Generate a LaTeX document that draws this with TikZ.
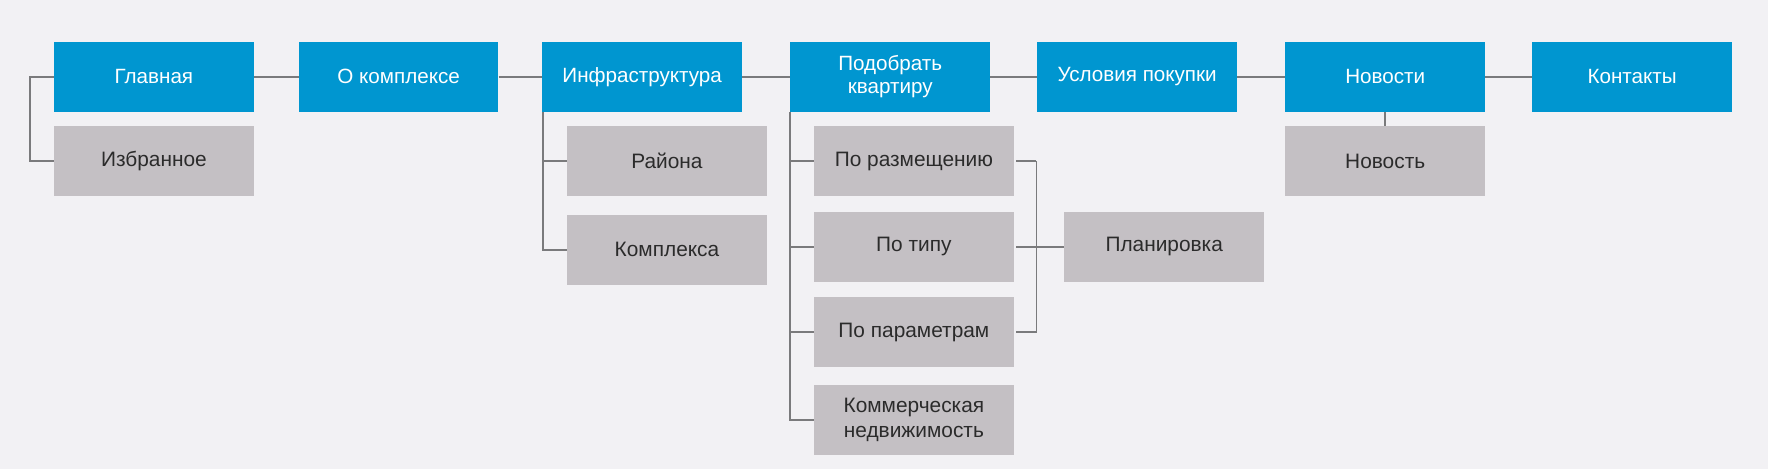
\documentclass[tikz,border=0pt]{standalone}
\usepackage{fontspec}
\setmainfont{Liberation Sans}
\definecolor{bg}{HTML}{F2F1F4}
\definecolor{topblue}{HTML}{0096D0}
\definecolor{subgray}{HTML}{C4C0C4}
\definecolor{linegray}{HTML}{7A7A7C}
\definecolor{txt}{HTML}{2B2B2B}
\tikzset{
  topbox/.style={fill=topblue, text=white, minimum width=177pt, minimum height=62pt,
    inner sep=0pt, align=center, font=\fontsize{18.3}{21}\selectfont},
  subbox/.style={fill=subgray, text=txt, minimum width=177pt, minimum height=62pt,
    inner sep=0pt, align=center, font=\fontsize{18.5}{22}\selectfont},
  conn/.style={draw=linegray, line width=1.7pt}
}
\begin{document}
\begin{tikzpicture}[x=1pt,y=-1pt]
\fill[bg] (0,0) rectangle (1568,416);
\useasboundingbox (0,0) rectangle (1568,416);
% top row
\node[topbox] (glav) at (136.5,68) {Главная};
\node[topbox] (okomp) at (353.5,68) {О комплексе};
\node[topbox] (infra) at (569.5,68) {Инфраструктура};
\node[topbox] (podobr) at (789.5,68) {Подобрать\\квартиру};
\node[topbox] (usl) at (1008.5,68) {Условия покупки};
\node[topbox] (novosti) at (1228.5,68) {Новости};
\node[topbox] (kont) at (1447.5,68) {Контакты};
% sub boxes
\node[subbox] (izbr) at (136.5,143) {Избранное};
\node[subbox] (rayon) at (591.5,142.5) {Района};
\node[subbox] (kompl) at (591.5,221.5) {Комплекса};
\node[subbox] (razm) at (810.5,143) {По размещению};
\node[subbox] (tip) at (810.5,219) {По типу};
\node[subbox] (param) at (810.5,294.5) {По параметрам};
\node[subbox] (komm) at (810.5,372.5) {Коммерческая\\недвижимость};
\node[subbox] (plan) at (1032.5,219) {Планировка};
\node[subbox] (novost) at (1228.5,143) {Новость};
% top connectors
\draw[conn] (glav.east) -- (okomp.west);
\draw[conn] (okomp.east) -- (infra.west);
\draw[conn] (infra.east) -- (podobr.west);
\draw[conn] (podobr.east) -- (usl.west);
\draw[conn] (usl.east) -- (novosti.west);
\draw[conn] (novosti.east) -- (kont.west);
% Главная bracket
\draw[conn] (glav.west) -- ++(-21,0) |- (izbr.west);
% Инфраструктура
\coordinate (infraB) at ([xshift=1pt]infra.south west);
\draw[conn] (infraB) |- (rayon.west);
\draw[conn] (infraB) |- (kompl.west);
% Подобрать квартиру
\coordinate (podB) at ([xshift=0pt]podobr.south west);
\draw[conn] (podB) |- (razm.west);
\draw[conn] (podB) |- (tip.west);
\draw[conn] (podB) |- (param.west);
\draw[conn] (podB) |- (komm.west);
% right bracket to Планировка
\draw[conn] ([xshift=2pt]razm.east) -- ++(18,0) coordinate (brk);
\draw[conn] ([xshift=2pt]param.east) -| (brk);
\draw[conn] ([xshift=2pt]tip.east) -- (plan.west);
% Новости
\draw[conn] (novosti.south) -- (novost.north);
\end{tikzpicture}
\end{document}
